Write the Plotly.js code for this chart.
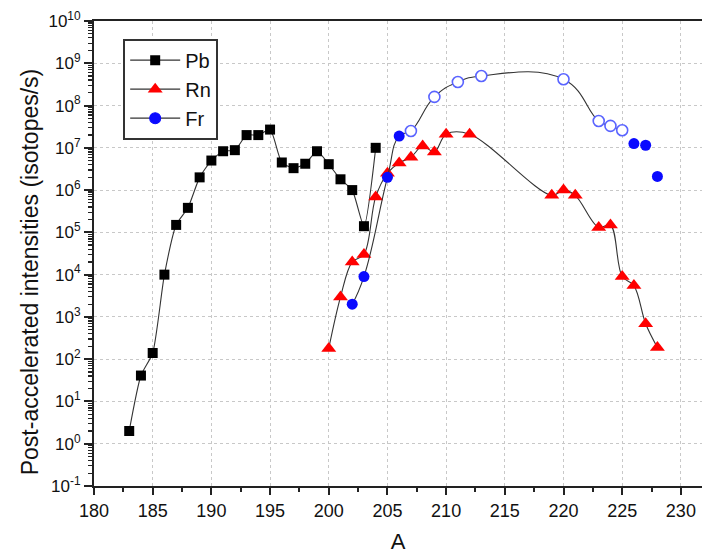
<!DOCTYPE html>
<html>
<head>
<meta charset="utf-8">
<script src="https://cdn.plot.ly/plotly-3.0.1.min.js"></script>
<style>
  html, body { margin: 0; padding: 0; background: #fff; }
  #chart { width: 702px; height: 554px; }
</style>
</head>
<body>
<div id="chart"></div>
<script>
// ---- Data ----
const pbA = [183, 184, 185, 186, 187, 188, 189, 190, 191, 192, 193, 194, 195, 196, 197, 198, 199, 200, 201, 202, 203, 204];
const pbI = [2, 41, 140, 1.0e4, 1.5e5, 3.8e5, 2.0e6, 5.0e6, 8.3e6, 8.8e6, 2.0e7, 2.0e7, 2.7e7, 4.5e6, 3.3e6, 4.2e6, 8.3e6, 4.1e6, 1.8e6, 1.0e6, 1.4e5, 1.0e7];

const rnA = [200, 201, 202, 203, 204, 205, 206, 207, 208, 209, 210, 212, 219, 220, 221, 223, 224, 225, 226, 227, 228];
const rnI = [180, 2950, 2.0e4, 3.0e4, 6.9e5, 2.5e6, 4.4e6, 6.0e6, 1.1e7, 8.0e6, 2.1e7, 2.1e7, 7.5e5, 1.0e6, 7.5e5, 1.3e5, 1.5e5, 9.0e3, 5.5e3, 690, 190];

// Fr: connected part (filled = measured, open = other points) and unconnected tail
const frCurveA = [202, 203, 205, 206, 207, 209, 211, 213, 220, 223, 224, 225];
const frCurveI = [2.0e3, 9.0e3, 2.0e6, 1.9e7, 2.5e7, 1.6e8, 3.6e8, 5.0e8, 4.2e8, 4.3e7, 3.3e7, 2.6e7];
const frCurveOpen = [false, false, false, false, true, true, true, true, true, true, true, true];
const frTailA = [226, 227, 228];
const frTailI = [1.26e7, 1.15e7, 2.1e6];

const seriesNames = ['Pb', 'Rn', 'Fr'];
const yTickExps = [-1, 0, 1, 2, 3, 4, 5, 6, 7, 8, 9, 10];
const xTitle = 'A';
const yTitle = 'Post-accelerated intensities (isotopes/s)';

// ---- Styles ----
const lineColor = '#333333';
const blue = '#0a0aff';
const openBlue = '#5a64ff';

const yTickVals = yTickExps.map(e => Math.pow(10, e));
const yTickText = yTickExps.map(e => '10<sup>' + e + '</sup>');
const yMinor = [];
for (let e = -1; e < 10; e++) for (let m = 2; m <= 9; m++) yMinor.push(m * Math.pow(10, e));

const traces = [
  {
    x: pbA, y: pbI, name: seriesNames[0], type: 'scatter', mode: 'lines+markers',
    line: { color: lineColor, width: 1.1, shape: 'spline', smoothing: 0.6 },
    marker: { symbol: 'square', size: 10, color: '#000000' }
  },
  {
    x: rnA, y: rnI, name: seriesNames[1], type: 'scatter', mode: 'lines+markers',
    line: { color: lineColor, width: 1.1, shape: 'spline', smoothing: 1 },
    marker: { symbol: 'triangle-up', size: 13, color: '#ff0000' }
  },
  {
    x: frCurveA, y: frCurveI, name: seriesNames[2], type: 'scatter', mode: 'lines+markers',
    line: { color: lineColor, width: 1.1, shape: 'spline', smoothing: 1.3 },
    marker: {
      symbol: 'circle', size: 11,
      color: frCurveOpen.map(o => o ? '#ffffff' : blue),
      line: { color: frCurveOpen.map(o => o ? openBlue : blue), width: frCurveOpen.map(o => o ? 1.6 : 0) }
    }
  },
  {
    x: frTailA, y: frTailI, name: seriesNames[2], type: 'scatter', mode: 'markers', showlegend: false,
    marker: { symbol: 'circle', size: 11, color: blue }
  }
];

const layout = {
  width: 702, height: 554,
  margin: { l: 94, r: 0, t: 21, b: 68 },
  paper_bgcolor: '#ffffff', plot_bgcolor: '#ffffff',
  font: { family: 'Liberation Sans, Arial, sans-serif', color: '#111111' },
  showlegend: true,
  legend: {
    x: 0.048, y: 0.962, xanchor: 'left', yanchor: 'top',
    bgcolor: '#ffffff', bordercolor: '#333333', borderwidth: 2,
    font: { size: 20, color: '#111111' }, tracegroupgap: 0, itemwidth: 50
  },
  xaxis: {
    range: [180, 231.8], tickmode: 'linear', tick0: 180, dtick: 5,
    ticks: 'outside', ticklen: 7, tickwidth: 2, tickcolor: '#222222',
    showline: true, linecolor: '#222222', linewidth: 2, mirror: true,
    showgrid: true, gridcolor: '#c8c8c8', griddash: 'dot', gridwidth: 1,
    zeroline: false,
    minor: { dtick: 2.5, ticks: 'outside', ticklen: 4, tickwidth: 2, tickcolor: '#222222', showgrid: false },
    tickfont: { size: 18 },
    title: { text: xTitle, font: { size: 22 }, standoff: 14 }
  },
  yaxis: {
    type: 'log', range: [-1, 10], tickmode: 'array', tickvals: yTickVals, ticktext: yTickText,
    ticks: 'outside', ticklen: 8, tickwidth: 2, tickcolor: '#222222',
    showline: true, linecolor: '#222222', linewidth: 2,
    showgrid: true, gridcolor: '#c8c8c8', griddash: 'dot', gridwidth: 1,
    zeroline: false,
    minor: { tickmode: 'array', tickvals: yMinor, ticks: 'outside', ticklen: 4, tickwidth: 1.2, tickcolor: '#222222', showgrid: false },
    tickfont: { size: 17 }
  },
  annotations: [{
    text: yTitle, textangle: -90, showarrow: false,
    xref: 'paper', yref: 'paper', x: -0.105, y: 0.46, xanchor: 'center', yanchor: 'middle',
    font: { size: 23, color: '#111111' }
  }]
};

Plotly.newPlot('chart', traces, layout, { displayModeBar: false, staticPlot: true });
</script>
</body>
</html>
